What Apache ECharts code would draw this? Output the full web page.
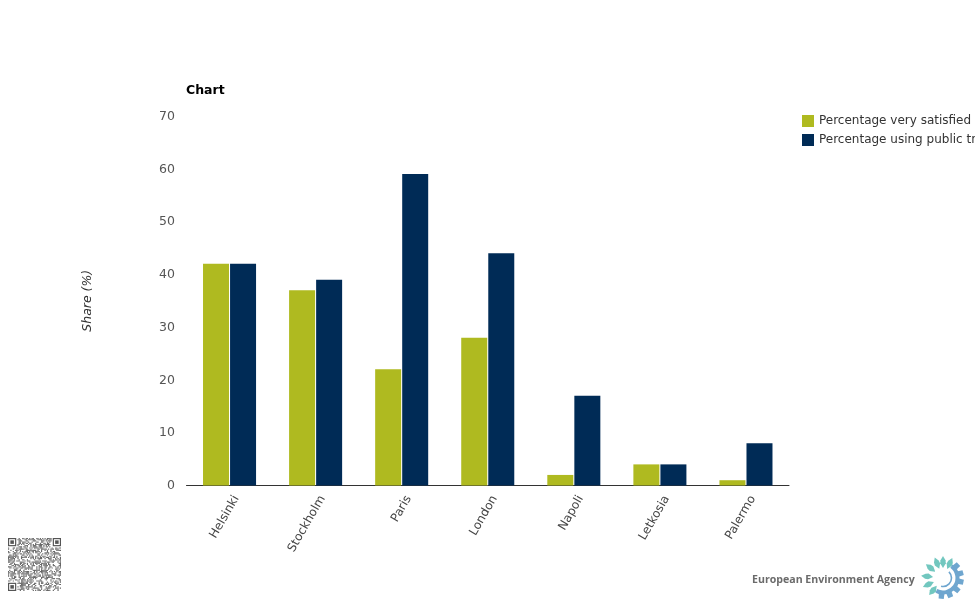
<!DOCTYPE html>
<html>
<head>
<meta charset="utf-8">
<title>Chart</title>
<script src="https://cdn.jsdelivr.net/npm/echarts@6/dist/echarts.min.js"></script>
<style>
html, body { margin: 0; padding: 0; background: #fff; overflow: hidden; }
#main { width: 975px; height: 600px; }
</style>
</head>
<body>
<div id="main"></div>
<script>
const cities = ['Helsinki', 'Stockholm', 'Paris', 'London', 'Napoli', 'Letkosia', 'Palermo'];
const verySatisfied = [42, 37, 22, 28, 2, 4, 1];
const usingPublicTransport = [42, 39, 59, 44, 17, 4, 8];
const yTicks = [0, 10, 20, 30, 40, 50, 60, 70];

const font = 'DejaVu Sans';

function polar(cx, cy, r, deg) {
    const rad = deg * Math.PI / 180;
    return [cx + Math.cos(rad) * r, cy + Math.sin(rad) * r];
}

// logo: teal petals on the left, blue cog on the right
function logoParts() {
    const cx = 943, cy = 578, parts = [];
    [-112, -90, -65, -141, -174, 156, 129].forEach(function (deg) {
        parts.push({
            type: 'polygon',
            silent: true,
            shape: { points: [polar(cx, cy, 10, deg), polar(cx, cy, 15, deg - 11), polar(cx, cy, 18, deg - 8), polar(cx, cy, 22, deg), polar(cx, cy, 18, deg + 8), polar(cx, cy, 15, deg + 11)] },
            style: { fill: '#72c7bf' }
        });
    });
    [-42, -15, 12, 40, 68, 95].forEach(function (deg) {
        parts.push({
            type: 'polygon',
            silent: true,
            shape: { points: [polar(cx, cy, 15, deg - 11), polar(cx, cy, 21, deg - 7), polar(cx, cy, 21, deg + 7), polar(cx, cy, 15, deg + 11)] },
            style: { fill: '#6fa6cf' }
        });
    });
    parts.push({
        type: 'arc',
        silent: true,
        shape: { cx: cx, cy: cy, r: 14.5, startAngle: -0.95, endAngle: 2.05 },
        style: { stroke: '#6fa6cf', lineWidth: 4, fill: 'none' }
    });
    parts.push({
        type: 'arc',
        silent: true,
        shape: { cx: cx, cy: cy, r: 8.5, startAngle: -0.8, endAngle: 1.8 },
        style: { stroke: '#6fa6cf', lineWidth: 1.6, fill: 'none' }
    });
    return parts;
}

// QR stamp, modules from a fixed bit mixer, finder squares in three corners
function qrParts() {
    const n = 45, size = 53 / 45, x0 = 8, y0 = 538, parts = [];
    const finder = (a, b) => {
        parts.push({ type: 'rect', silent: true, shape: { x: x0 + a * size, y: y0 + b * size, width: 7 * size, height: 7 * size }, style: { fill: '#555' } });
        parts.push({ type: 'rect', silent: true, shape: { x: x0 + (a + 1) * size, y: y0 + (b + 1) * size, width: 5 * size, height: 5 * size }, style: { fill: '#fff' } });
        parts.push({ type: 'rect', silent: true, shape: { x: x0 + (a + 2) * size, y: y0 + (b + 2) * size, width: 3 * size, height: 3 * size }, style: { fill: '#555' } });
    };
    for (let r = 0; r < n; r++) {
        for (let c = 0; c < n; c++) {
            const inFinder = (r < 8 && c < 8) || (r < 8 && c > n - 9) || (r > n - 9 && c < 8);
            if (inFinder) continue;
            let h = Math.imul(r * 131 + c + 7, 2654435761);
            h = Math.imul(h ^ (h >>> 13), 1597334677);
            h = h ^ (h >>> 16);
            if (h & 4) parts.push({ type: 'rect', silent: true, shape: { x: x0 + c * size, y: y0 + r * size, width: size, height: size }, style: { fill: '#666' } });
        }
    }
    finder(0, 0); finder(n - 7, 0); finder(0, n - 7);
    return parts;
}

const chart = echarts.init(document.getElementById('main'), null, { renderer: 'canvas' });
chart.setOption({
    animation: false,
    textStyle: { fontFamily: font },
    title: {
        text: 'Chart',
        left: 186,
        top: 84,
        padding: 0,
        textStyle: { fontFamily: font, fontSize: 12.5, fontWeight: 'bold', color: '#000' }
    },
    legend: {
        orient: 'vertical',
        left: 802,
        top: 115,
        padding: 0,
        itemWidth: 12,
        itemHeight: 12,
        itemGap: 7,
        icon: 'rect',
        itemStyle: { borderWidth: 0 },
        textStyle: { fontFamily: font, fontSize: 12, color: '#333', padding: [6, 0, 0, 0] }
    },
    grid: { left: 186.5, top: 116, width: 602.5, height: 369.5, containLabel: false },
    xAxis: {
        type: 'category',
        data: cities,
        axisLine: { lineStyle: { color: '#333', width: 1 } },
        axisTick: { show: false },
        axisLabel: { rotate: 60, fontFamily: font, fontSize: 12, color: '#444', margin: 7, interval: 0, verticalAlign: 'top', padding: [2, 0, 0, 0] }
    },
    yAxis: {
        type: 'value',
        min: yTicks[0],
        max: yTicks[yTicks.length - 1],
        interval: 10,
        name: 'Share (%)',
        nameLocation: 'middle',
        nameGap: 92,
        nameRotate: 90,
        nameTextStyle: { fontFamily: font, fontSize: 12.5, fontStyle: 'italic', color: '#333' },
        axisLine: { show: false },
        axisTick: { show: false },
        splitLine: { show: false },
        axisLabel: { fontFamily: font, fontSize: 12.5, color: '#555', margin: 11.5, verticalAlign: 'top', padding: [-6, 0, 0, 0] }
    },
    series: [
        {
            name: 'Percentage very satisfied',
            type: 'bar',
            data: verySatisfied,
            barWidth: 26,
            barGap: '4%',
            itemStyle: { color: '#afba20' }
        },
        {
            name: 'Percentage using public transport',
            type: 'bar',
            data: usingPublicTransport,
            barWidth: 26,
            itemStyle: { color: '#002b56' }
        }
    ],
    graphic: [
        {
            type: 'text',
            silent: true,
            left: 752,
            top: 574,
            style: { text: 'European Environment Agency', fontFamily: 'Open Sans', fontSize: 10.6, fontWeight: 'bold', fill: '#6b6b6b' }
        },
        ...logoParts(),
        ...qrParts()
    ]
});
</script>
</body>
</html>
